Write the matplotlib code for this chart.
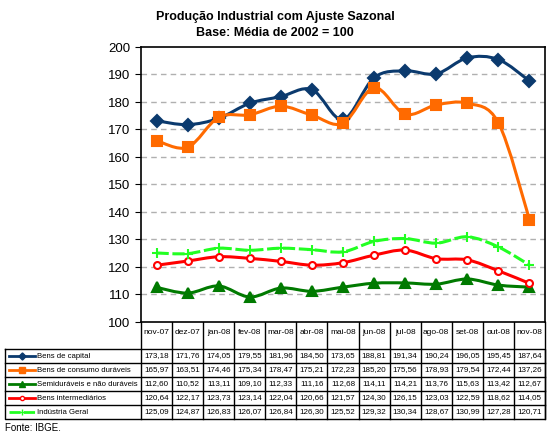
import numpy as np
import matplotlib.pyplot as plt
from matplotlib.path import Path
from matplotlib.patches import PathPatch

plt.rcParams['font.family'] = ['Liberation Sans', 'DejaVu Sans']

meses = ["nov-07", "dez-07", "jan-08", "fev-08", "mar-08", "abr-08", "mai-08",
         "jun-08", "jul-08", "ago-08", "set-08", "out-08", "nov-08"]
capital = [173.18, 171.76, 174.05, 179.55, 181.96, 184.50, 173.65, 188.81, 191.34, 190.24, 196.05, 195.45, 187.64]
consumo = [165.97, 163.51, 174.46, 175.34, 178.47, 175.21, 172.23, 185.20, 175.56, 178.93, 179.54, 172.44, 137.26]
semi = [112.60, 110.52, 113.11, 109.10, 112.33, 111.16, 112.68, 114.11, 114.21, 113.76, 115.63, 113.42, 112.67]
intermed = [120.64, 122.17, 123.73, 123.14, 122.04, 120.66, 121.57, 124.30, 126.15, 123.03, 122.59, 118.62, 114.05]
geral = [125.09, 124.87, 126.83, 126.07, 126.84, 126.30, 125.52, 129.32, 130.34, 128.67, 130.99, 127.28, 120.71]

nomes = ["Bens de capital", "Bens de consumo duráveis", "Semiduráveis e não duráveis",
         "Bens intermediários", "Indústria Geral"]
series = [capital, consumo, semi, intermed, geral]
estilos = [
    dict(color="#0B3A6E", marker="D", ms=6, mfc="#0B3A6E", mec="#0B3A6E", ls="-"),
    dict(color="#FF6A00", marker="s", ms=7, mfc="#FF6A00", mec="#FF6A00", ls="-"),
    dict(color="#007A00", marker="^", ms=7, mfc="#007A00", mec="#007A00", ls="-"),
    dict(color="#FF0000", marker="o", ms=5, mfc="white", mec="#FF0000", ls="-"),
    dict(color="#22FF22", marker="+", ms=7, mfc="#22FF22", mec="#22FF22", ls=(0, (4, 1.2))),
]


def smooth_path(xs, ys):
    # Excel-like smoothed line: cubic bezier through the points
    xs = np.asarray(xs, float)
    ys = np.asarray(ys, float)
    verts = [(xs[0], ys[0])]
    codes = [Path.MOVETO]
    k = len(xs)
    for i in range(k - 1):
        p0 = i - 1 if i > 0 else i
        p3 = i + 2 if i + 2 < k else i + 1
        c1 = (xs[i] + (xs[i + 1] - xs[p0]) / 6, ys[i] + (ys[i + 1] - ys[p0]) / 6)
        c2 = (xs[i + 1] - (xs[p3] - xs[i]) / 6, ys[i + 1] - (ys[p3] - ys[i]) / 6)
        verts += [c1, c2, (xs[i + 1], ys[i + 1])]
        codes += [Path.CURVE4] * 3
    return Path(verts, codes)


W, H = 550, 440
fig = plt.figure(figsize=(5.5, 4.4), dpi=100)

# table / frame layer in pixel coords
bg = fig.add_axes([0, 0, 1, 1])
bg.set_xlim(0, W)
bg.set_ylim(H, 0)
bg.axis("off")

x0, x1 = 141, 545
y_top, y_bot = 47, 322
ax = fig.add_axes([x0 / W, 1 - y_bot / H, (x1 - x0) / W, (y_bot - y_top) / H])
n = len(meses)
x = np.arange(n)
for s, st in zip(series, estilos):
    ax.add_patch(PathPatch(smooth_path(x, s), fill=False, edgecolor=st["color"],
                           lw=2.2, ls=st["ls"], zorder=2))
    ax.plot(x, s, ls="none", marker=st["marker"], ms=st["ms"], mfc=st["mfc"],
            mec=st["mec"], mew=1.5, zorder=3)
ax.set_xlim(-0.5, n - 0.5)
ax.set_ylim(100, 200)
ax.set_yticks(range(100, 201, 10))
ax.set_xticks([])
ax.tick_params(axis="y", labelsize=9.5, length=4, direction="out")
for yv in range(110, 200, 10):
    ax.axhline(yv, color="#B0B0B0", lw=1, ls=(0, (4, 3)), zorder=0)
for sp in ax.spines.values():
    sp.set_linewidth(1.2)

fig.text(275 / W, 1 - 17 / H, "Produção Industrial com Ajuste Sazonal",
         ha="center", va="center", fontsize=9, fontweight="bold")
fig.text(275 / W, 1 - 33 / H, "Base: Média de 2002 = 100",
         ha="center", va="center", fontsize=9, fontweight="bold")

# category labels row + table
cw = (x1 - x0) / n
lab_top, tab_top, rh = y_bot, 349, 14
tab_bot = tab_top + rh * len(series)
for i, m in enumerate(meses):
    cx = x0 + cw * (i + 0.5)
    bg.text(cx, 333, m, ha="center", va="center", fontsize=6)
for i in range(n + 1):
    xv = x0 + cw * i
    bg.plot([xv, xv], [lab_top, tab_bot], color="black", lw=1)
bg.plot([5, x1, x1, 5, 5], [tab_top, tab_top, tab_bot, tab_bot, tab_top], color="black", lw=1)
for r in range(1, len(series)):
    yv = tab_top + rh * r
    bg.plot([5, x1], [yv, yv], color="black", lw=1)
for r, (nome, s, st) in enumerate(zip(nomes, series, estilos)):
    cy = tab_top + rh * (r + 0.5)
    bg.plot([9, 35], [cy, cy], color=st["color"], lw=2, ls=st["ls"])
    bg.plot([22], [cy], marker=st["marker"], ms=st["ms"] * 0.6, mfc=st["mfc"], mec=st["mec"])
    bg.text(37, cy, nome, ha="left", va="center", fontsize=5.6)
    for i, v in enumerate(s):
        bg.text(x0 + cw * (i + 0.5), cy, f"{v:.2f}".replace(".", ","),
                ha="center", va="center", fontsize=5.8)

bg.text(5, 428, "Fonte: IBGE.", ha="left", va="center", fontsize=7)

fig.savefig("out.png", dpi=100)
